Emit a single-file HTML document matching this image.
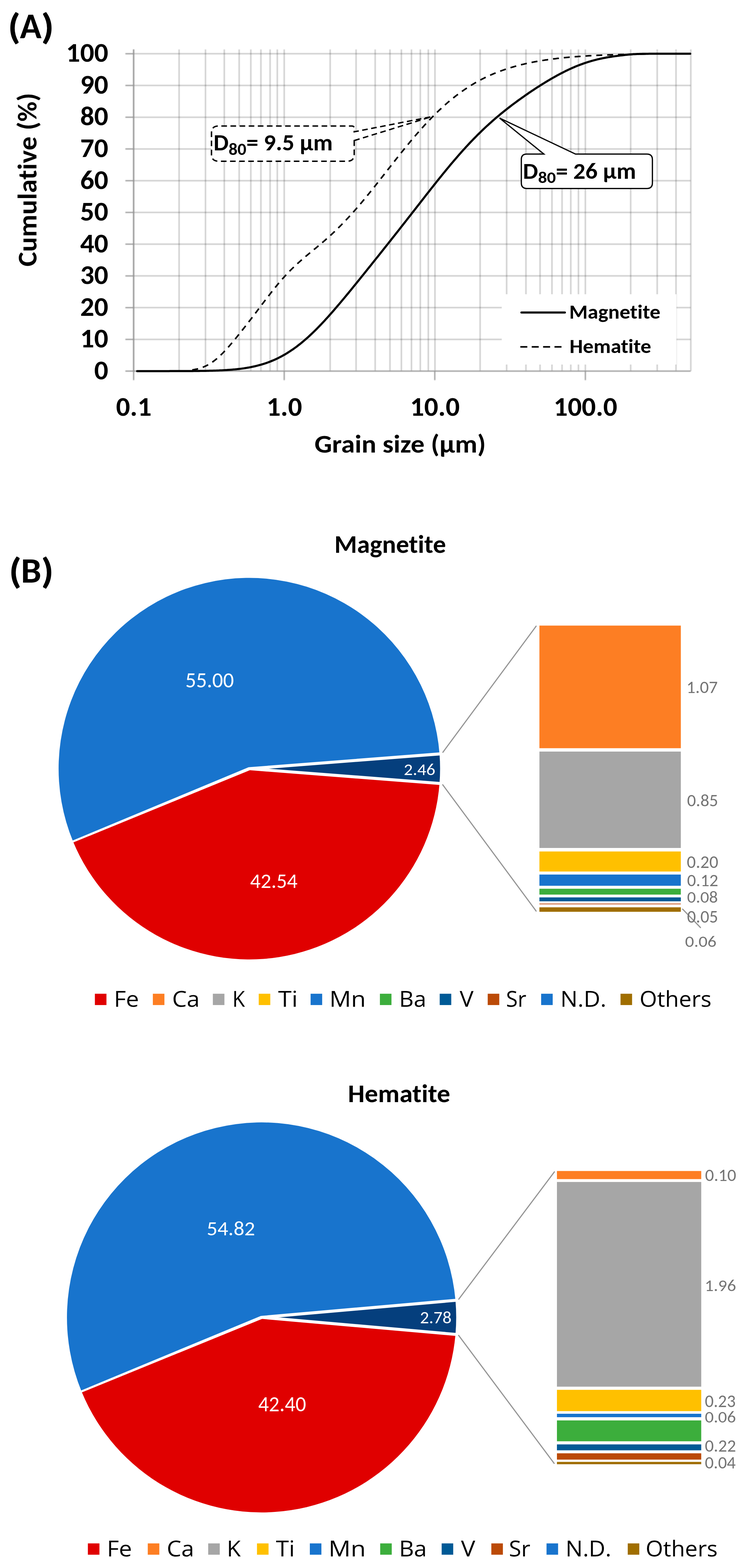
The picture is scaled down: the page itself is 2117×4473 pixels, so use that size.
<!DOCTYPE html><html><head><meta charset="utf-8"><title>Figure</title><style>html,body{margin:0;padding:0;background:#fff}svg{display:block}text{white-space:pre;font-variant-ligatures:none;font-feature-settings:"liga" 0,"clig" 0}</style></head><body>
<svg width="2117" height="4473" viewBox="0 0 2117 4473">
<rect width="2117" height="4473" fill="#fff"/>
<defs><filter id="bl" x="-1%" y="-1%" width="102%" height="102%"><feGaussianBlur stdDeviation="0.8"/></filter><filter id="bl2" x="-5%" y="-5%" width="110%" height="110%"><feGaussianBlur stdDeviation="0.6"/></filter></defs>
<g stroke="#000" stroke-opacity="0.22" stroke-width="3.5" fill="none" filter="url(#bl)">
<line x1="381.3" y1="141" x2="381.3" y2="1058.7"/>
<line x1="511.0" y1="141" x2="511.0" y2="1058.7"/>
<line x1="586.3" y1="141" x2="586.3" y2="1058.7"/>
<line x1="639.9" y1="141" x2="639.9" y2="1058.7"/>
<line x1="682.4" y1="141" x2="682.4" y2="1058.7"/>
<line x1="715.6" y1="141" x2="715.6" y2="1058.7"/>
<line x1="744.4" y1="141" x2="744.4" y2="1058.7"/>
<line x1="770.6" y1="141" x2="770.6" y2="1058.7"/>
<line x1="791.2" y1="141" x2="791.2" y2="1058.7"/>
<line x1="810.9" y1="141" x2="810.9" y2="1058.7"/>
<line x1="942.0" y1="141" x2="942.0" y2="1058.7"/>
<line x1="1015.9" y1="141" x2="1015.9" y2="1058.7"/>
<line x1="1070.4" y1="141" x2="1070.4" y2="1058.7"/>
<line x1="1112.6" y1="141" x2="1112.6" y2="1058.7"/>
<line x1="1145.2" y1="141" x2="1145.2" y2="1058.7"/>
<line x1="1174.0" y1="141" x2="1174.0" y2="1058.7"/>
<line x1="1199.2" y1="141" x2="1199.2" y2="1058.7"/>
<line x1="1222.0" y1="141" x2="1222.0" y2="1058.7"/>
<line x1="1241.0" y1="141" x2="1241.0" y2="1058.7"/>
<line x1="1369.8" y1="141" x2="1369.8" y2="1058.7"/>
<line x1="1445.5" y1="141" x2="1445.5" y2="1058.7"/>
<line x1="1500.6" y1="141" x2="1500.6" y2="1058.7"/>
<line x1="1540.8" y1="141" x2="1540.8" y2="1058.7"/>
<line x1="1574.8" y1="141" x2="1574.8" y2="1058.7"/>
<line x1="1603.6" y1="141" x2="1603.6" y2="1058.7"/>
<line x1="1628.5" y1="141" x2="1628.5" y2="1058.7"/>
<line x1="1650.4" y1="141" x2="1650.4" y2="1058.7"/>
<line x1="1670.1" y1="141" x2="1670.1" y2="1058.7"/>
<line x1="1799.4" y1="141" x2="1799.4" y2="1058.7"/>
<line x1="1875.1" y1="141" x2="1875.1" y2="1058.7"/>
<line x1="1928.7" y1="141" x2="1928.7" y2="1058.7"/>
<line x1="1970.9" y1="141" x2="1970.9" y2="1058.7"/>
<line x1="381.3" y1="968.2" x2="1970.4" y2="968.2"/>
<line x1="381.3" y1="877.6" x2="1970.4" y2="877.6"/>
<line x1="381.3" y1="787.1" x2="1970.4" y2="787.1"/>
<line x1="381.3" y1="696.5" x2="1970.4" y2="696.5"/>
<line x1="381.3" y1="606.0" x2="1970.4" y2="606.0"/>
<line x1="381.3" y1="515.5" x2="1970.4" y2="515.5"/>
<line x1="381.3" y1="424.9" x2="1970.4" y2="424.9"/>
<line x1="381.3" y1="334.4" x2="1970.4" y2="334.4"/>
<line x1="381.3" y1="243.8" x2="1970.4" y2="243.8"/>
<line x1="381.3" y1="153.3" x2="1970.4" y2="153.3"/>
</g>
<g stroke="#959595" stroke-width="3.2" fill="none" filter="url(#bl)">
<line x1="381.3" y1="141" x2="381.3" y2="1084.5"/>
<line x1="357.7" y1="1058.7" x2="1970.4" y2="1058.7"/>
<line x1="357.7" y1="968.2" x2="381.3" y2="968.2"/>
<line x1="357.7" y1="877.6" x2="381.3" y2="877.6"/>
<line x1="357.7" y1="787.1" x2="381.3" y2="787.1"/>
<line x1="357.7" y1="696.5" x2="381.3" y2="696.5"/>
<line x1="357.7" y1="606.0" x2="381.3" y2="606.0"/>
<line x1="357.7" y1="515.5" x2="381.3" y2="515.5"/>
<line x1="357.7" y1="424.9" x2="381.3" y2="424.9"/>
<line x1="357.7" y1="334.4" x2="381.3" y2="334.4"/>
<line x1="357.7" y1="243.8" x2="381.3" y2="243.8"/>
<line x1="357.7" y1="153.3" x2="381.3" y2="153.3"/>
<line x1="810.9" y1="1058.7" x2="810.9" y2="1084.5"/>
<line x1="1240.5" y1="1058.7" x2="1240.5" y2="1084.5"/>
<line x1="1670.1" y1="1058.7" x2="1670.1" y2="1084.5"/>
</g>
<g style="font-family:Carlito,'Liberation Sans',sans-serif;font-weight:bold" font-size="80" fill="#000">
<text transform="translate(309,1081.7) scale(0.99,0.95)" text-anchor="end">0</text>
<text transform="translate(309,991.2) scale(0.99,0.95)" text-anchor="end">10</text>
<text transform="translate(309,900.6) scale(0.99,0.95)" text-anchor="end">20</text>
<text transform="translate(309,810.1) scale(0.99,0.95)" text-anchor="end">30</text>
<text transform="translate(309,719.5) scale(0.99,0.95)" text-anchor="end">40</text>
<text transform="translate(309,629.0) scale(0.99,0.95)" text-anchor="end">50</text>
<text transform="translate(309,538.5) scale(0.99,0.95)" text-anchor="end">60</text>
<text transform="translate(309,447.9) scale(0.99,0.95)" text-anchor="end">70</text>
<text transform="translate(309,357.4) scale(0.99,0.95)" text-anchor="end">80</text>
<text transform="translate(309,266.8) scale(0.99,0.95)" text-anchor="end">90</text>
<text transform="translate(309,176.3) scale(0.99,0.95)" text-anchor="end">100</text>
<text transform="translate(381.6,1185.7) scale(0.99,0.95)" text-anchor="middle">0.1</text>
<text transform="translate(811.2,1185.7) scale(0.99,0.95)" text-anchor="middle">1.0</text>
<text transform="translate(1240.8,1185.7) scale(0.99,0.95)" text-anchor="middle">10.0</text>
<text transform="translate(1670.4,1185.7) scale(0.99,0.95)" text-anchor="middle">100.0</text>
</g>
<text transform="translate(897.24,1291.27) scale(0.9819,0.9178)" style="font-family:Carlito,'Liberation Sans',sans-serif;font-weight:bold" font-size="80" fill="#000" textLength="498.05" lengthAdjust="spacingAndGlyphs">Grain size (µm)</text>
<text transform="rotate(-90) translate(-760.27,103.75) scale(0.9851,0.9625)" style="font-family:Carlito,'Liberation Sans',sans-serif;font-weight:bold" font-size="80" fill="#000" textLength="502.70" lengthAdjust="spacingAndGlyphs">Cumulative (%)</text>
<text transform="translate(22.31,111.48) scale(1.1476,1.0078)" style="font-family:Carlito,'Liberation Sans',sans-serif;font-weight:bold" font-size="102" fill="#000" textLength="31.78" lengthAdjust="spacingAndGlyphs">(</text>
<text transform="translate(56.80,109.40) scale(1.0000,1.0182)" style="font-family:Carlito,'Liberation Sans',sans-serif;font-weight:bold" font-size="102" fill="#000" textLength="61.81" lengthAdjust="spacingAndGlyphs">A</text>
<text transform="translate(116.92,111.48) scale(1.1762,1.0078)" style="font-family:Carlito,'Liberation Sans',sans-serif;font-weight:bold" font-size="102" fill="#000" textLength="31.78" lengthAdjust="spacingAndGlyphs">)</text>
<path d="M548.5,1055.1 L551.6,1054.7 L554.7,1054.1 L557.8,1053.5 L560.9,1052.9 L564.0,1052.2 L567.1,1051.4 L570.2,1050.5 L573.3,1049.5 L576.4,1048.4 L579.5,1047.3 L582.6,1046.0 L585.7,1044.6 L588.8,1043.2 L591.9,1041.6 L595.0,1039.9 L598.1,1038.1 L601.2,1036.1 L604.3,1034.1 L607.4,1031.9 L610.5,1029.6 L613.6,1027.2 L616.7,1024.7 L619.8,1022.1 L622.9,1019.4 L626.0,1016.5 L629.1,1013.6 L632.2,1010.6 L635.4,1007.5 L638.5,1004.3 L641.6,1001.0 L644.7,997.6 L647.8,994.2 L650.9,990.7 L654.0,987.2 L657.1,983.6 L660.2,980.0 L663.3,976.3 L666.4,972.6 L669.5,968.8 L672.6,965.1 L675.7,961.3 L678.8,957.4 L681.9,953.6 L685.0,949.7 L688.1,945.9 L691.2,942.0 L694.3,938.0 L697.4,934.1 L700.5,930.2 L703.6,926.2 L706.7,922.2 L709.8,918.2 L712.9,914.2 L716.0,910.2 L719.1,906.1 L722.2,902.1 L725.3,898.0 L728.4,893.9 L731.5,889.8 L734.6,885.7 L737.7,881.6 L740.8,877.5 L743.9,873.4 L747.0,869.3 L750.1,865.2 L753.2,861.1 L756.3,857.0 L759.4,852.9 L762.5,848.8 L765.7,844.8 L768.8,840.8 L771.9,836.8 L775.0,832.8 L778.1,828.9 L781.2,825.0 L784.3,821.1 L787.4,817.3 L790.5,813.5 L793.6,809.8 L796.7,806.1 L799.8,802.4 L802.9,798.9 L806.0,795.3 L809.1,791.9 L812.2,788.4 L815.3,785.1 L818.4,781.7 L821.5,778.5 L824.6,775.3 L827.7,772.1 L830.8,769.0 L833.9,766.0 L837.0,763.0 L840.1,760.0 L843.2,757.1 L846.3,754.2 L849.4,751.4 L852.5,748.6 L855.6,745.8 L858.7,743.1 L861.8,740.4 L864.9,737.7 L868.0,735.1 L871.1,732.4 L874.2,729.8 L877.3,727.2 L880.4,724.6 L883.5,722.1 L886.6,719.5 L889.7,716.9 L892.8,714.4 L895.9,711.8 L899.1,709.3 L902.2,706.7 L905.3,704.1 L908.4,701.5 L911.5,698.9 L914.6,696.3 L917.7,693.7 L920.8,691.0 L923.9,688.4 L927.0,685.7 L930.1,682.9 L933.2,680.2 L936.3,677.4 L939.4,674.7 L942.5,671.8 L945.6,669.0 L948.7,666.1 L951.8,663.2 L954.9,660.3 L958.0,657.3 L961.1,654.3 L964.2,651.3 L967.3,648.2 L970.4,645.1 L973.5,642.0 L976.6,638.8 L979.7,635.6 L982.8,632.4 L985.9,629.1 L989.0,625.8 L992.1,622.5 L995.2,619.2 L998.3,615.8 L1001.4,612.4 L1004.5,608.9 L1007.6,605.5 L1010.7,602.0 L1013.8,598.4 L1016.9,594.9 L1020.0,591.3 L1023.1,587.7 L1026.2,584.1 L1029.4,580.4 L1032.5,576.7 L1035.6,573.0 L1038.7,569.3 L1041.8,565.5 L1044.9,561.8 L1048.0,558.0 L1051.1,554.2 L1054.2,550.4 L1057.3,546.5 L1060.4,542.7 L1063.5,538.8 L1066.6,534.9 L1069.7,531.0 L1072.8,527.1 L1075.9,523.2 L1079.0,519.3 L1082.1,515.3 L1085.2,511.4 L1088.3,507.4 L1091.4,503.5 L1094.5,499.5 L1097.6,495.6 L1100.7,491.6 L1103.8,487.6 L1106.9,483.7 L1110.0,479.7 L1113.1,475.8 L1116.2,471.8 L1119.3,467.9 L1122.4,463.9 L1125.5,460.0 L1128.6,456.0 L1131.7,452.1 L1134.8,448.2 L1137.9,444.3 L1141.0,440.4 L1144.1,436.5 L1147.2,432.7 L1150.3,428.8 L1153.4,425.0 L1156.5,421.1 L1159.6,417.3 L1162.8,413.6 L1165.9,409.8 L1169.0,406.0 L1172.1,402.3 L1175.2,398.6 L1178.3,394.9 L1181.4,391.3 L1184.5,387.6 L1187.6,384.0 L1190.7,380.4 L1193.8,376.9 L1196.9,373.3 L1200.0,369.8 L1203.1,366.3 L1206.2,362.9 L1209.3,359.5 L1212.4,356.1 L1215.5,352.7 L1218.6,349.4 L1221.7,346.1 L1224.8,342.8 L1227.9,339.6 L1231.0,336.4 L1234.1,333.2 L1237.2,330.1 L1240.3,327.0 L1243.4,323.9 L1246.5,320.9 L1249.6,317.9 L1252.7,314.9 L1255.8,312.0 L1258.9,309.1 L1262.0,306.2 L1265.1,303.4 L1268.2,300.6 L1271.3,297.8 L1274.4,295.1 L1277.5,292.4 L1280.6,289.8 L1283.7,287.2 L1286.8,284.6 L1289.9,282.0 L1293.1,279.5 L1296.2,277.1 L1299.3,274.6 L1302.4,272.2 L1305.5,269.9 L1308.6,267.6 L1311.7,265.3 L1314.8,263.0 L1317.9,260.8 L1321.0,258.6 L1324.1,256.5 L1327.2,254.3 L1330.3,252.3 L1333.4,250.2 L1336.5,248.2 L1339.6,246.2 L1342.7,244.3 L1345.8,242.4 L1348.9,240.5 L1352.0,238.6 L1355.1,236.8 L1358.2,235.0 L1361.3,233.3 L1364.4,231.6 L1367.5,229.9 L1370.6,228.2 L1373.7,226.6 L1376.8,225.0 L1379.9,223.4 L1383.0,221.9 L1386.1,220.4 L1389.2,218.9 L1392.3,217.5 L1395.4,216.0 L1398.5,214.6 L1401.6,213.3 L1404.7,211.9 L1407.8,210.6 L1410.9,209.3 L1414.0,208.1 L1417.1,206.8 L1420.2,205.6 L1423.3,204.4 L1426.5,203.2 L1429.6,202.1 L1432.7,201.0 L1435.8,199.9 L1438.9,198.8 L1442.0,197.7 L1445.1,196.7 L1448.2,195.7 L1451.3,194.7 L1454.4,193.7 L1457.5,192.8 L1460.6,191.9 L1463.7,191.0 L1466.8,190.1 L1469.9,189.2 L1473.0,188.3 L1476.1,187.5 L1479.2,186.7 L1482.3,185.9 L1485.4,185.1 L1488.5,184.3 L1491.6,183.6 L1494.7,182.9 L1497.8,182.1 L1500.9,181.4 L1504.0,180.8 L1507.1,180.1 L1510.2,179.4 L1513.3,178.8 L1516.4,178.2 L1519.5,177.5 L1522.6,176.9 L1525.7,176.3 L1528.8,175.8 L1531.9,175.2 L1535.0,174.7 L1538.1,174.1 L1541.2,173.6 L1544.3,173.1 L1547.4,172.6 L1550.5,172.1 L1553.6,171.6 L1556.8,171.1 L1559.9,170.7 L1563.0,170.2 L1566.1,169.8 L1569.2,169.4 L1572.3,168.9 L1575.4,168.5 L1578.5,168.1 L1581.6,167.7 L1584.7,167.4 L1587.8,167.0 L1590.9,166.6 L1594.0,166.3 L1597.1,165.9 L1600.2,165.6 L1603.3,165.3 L1606.4,164.9 L1609.5,164.6 L1612.6,164.3 L1615.7,164.0 L1618.8,163.7 L1621.9,163.4 L1625.0,163.1 L1628.1,162.9 L1631.2,162.6 L1634.3,162.3 L1637.4,162.1 L1640.5,161.8 L1643.6,161.6 L1646.7,161.4 L1649.8,161.1 L1652.9,160.9 L1656.0,160.7 L1659.1,160.5 L1662.2,160.3 L1665.3,160.1 L1668.4,159.9 L1671.5,159.7 L1674.6,159.5 L1677.7,159.3 L1680.8,159.1 L1683.9,158.9 L1687.1,158.8 L1690.2,158.6 L1693.3,158.4 L1696.4,158.3 L1699.5,158.1 L1702.6,158.0 L1705.7,157.8 L1708.8,157.7 L1711.9,157.6 L1715.0,157.4 L1718.1,157.3 L1721.2,157.2 L1724.3,157.1 L1727.4,156.9 L1730.5,156.8 L1733.6,156.7 L1736.7,156.6 L1739.8,156.5 L1742.9,156.4 L1746.0,156.3 L1749.1,156.2 L1752.2,156.1 L1755.3,156.0 L1758.4,155.9 L1761.5,155.8 L1764.6,155.7 L1767.7,155.7 L1770.8,155.6 L1773.9,155.5 L1777.0,155.4 L1780.1,155.3 L1783.2,155.3 L1786.3,155.2 L1789.4,155.1 L1792.5,155.1 L1795.6,155.0 L1798.7,155.0 L1801.8,154.9 L1804.9,154.8 L1808.0,154.8 L1811.1,154.7 L1814.2,154.7 L1817.3,154.6 L1820.5,154.6 L1823.6,154.5 L1826.7,154.5 L1829.8,154.4 L1832.9,154.4 L1836.0,154.4 L1839.1,154.3 L1842.2,154.3 L1845.3,154.2 L1848.4,154.2" fill="none" stroke="#000" stroke-width="4.5" stroke-dasharray="17 14"/>
<path d="M391.3,1058.7 L395.1,1058.7 L398.8,1058.7 L402.6,1058.7 L406.4,1058.7 L410.1,1058.7 L413.9,1058.7 L417.7,1058.7 L421.4,1058.7 L425.2,1058.7 L428.9,1058.7 L432.7,1058.7 L436.5,1058.7 L440.2,1058.7 L444.0,1058.7 L447.8,1058.7 L451.5,1058.7 L455.3,1058.7 L459.1,1058.7 L462.8,1058.7 L466.6,1058.7 L470.4,1058.7 L474.1,1058.7 L477.9,1058.7 L481.7,1058.7 L485.4,1058.6 L489.2,1058.6 L493.0,1058.6 L496.7,1058.6 L500.5,1058.6 L504.3,1058.6 L508.0,1058.6 L511.8,1058.6 L515.6,1058.6 L519.3,1058.6 L523.1,1058.5 L526.9,1058.5 L530.6,1058.5 L534.4,1058.5 L538.2,1058.5 L541.9,1058.4 L545.7,1058.4 L549.5,1058.4 L553.2,1058.3 L557.0,1058.3 L560.8,1058.3 L564.5,1058.2 L568.3,1058.2 L572.1,1058.1 L575.8,1058.1 L579.6,1058.0 L583.4,1058.0 L587.1,1057.9 L590.9,1057.8 L594.7,1057.7 L598.4,1057.6 L602.2,1057.5 L606.0,1057.4 L609.7,1057.3 L613.5,1057.2 L617.3,1057.1 L621.0,1056.9 L624.8,1056.8 L628.5,1056.6 L632.3,1056.4 L636.1,1056.2 L639.8,1056.0 L643.6,1055.8 L647.4,1055.6 L651.1,1055.3 L654.9,1055.0 L658.7,1054.7 L662.4,1054.4 L666.2,1054.1 L670.0,1053.8 L673.7,1053.4 L677.5,1053.0 L681.3,1052.6 L685.0,1052.1 L688.8,1051.6 L692.6,1051.1 L696.3,1050.6 L700.1,1050.0 L703.9,1049.4 L707.6,1048.7 L711.4,1048.1 L715.2,1047.4 L718.9,1046.6 L722.7,1045.8 L726.5,1045.0 L730.2,1044.1 L734.0,1043.2 L737.8,1042.2 L741.5,1041.2 L745.3,1040.1 L749.1,1039.0 L752.8,1037.8 L756.6,1036.6 L760.4,1035.3 L764.1,1034.0 L767.9,1032.6 L771.7,1031.1 L775.4,1029.6 L779.2,1028.1 L783.0,1026.4 L786.7,1024.7 L790.5,1023.0 L794.3,1021.1 L798.0,1019.2 L801.8,1017.3 L805.6,1015.2 L809.3,1013.1 L813.1,1011.0 L816.9,1008.7 L820.6,1006.4 L824.4,1004.0 L828.1,1001.6 L831.9,999.1 L835.7,996.5 L839.4,993.8 L843.2,991.1 L847.0,988.3 L850.7,985.4 L854.5,982.5 L858.3,979.5 L862.0,976.4 L865.8,973.2 L869.6,970.0 L873.3,966.8 L877.1,963.4 L880.9,960.0 L884.6,956.5 L888.4,953.0 L892.2,949.4 L895.9,945.8 L899.7,942.1 L903.5,938.3 L907.2,934.5 L911.0,930.6 L914.8,926.7 L918.5,922.7 L922.3,918.7 L926.1,914.7 L929.8,910.6 L933.6,906.4 L937.4,902.3 L941.1,898.0 L944.9,893.8 L948.7,889.5 L952.4,885.2 L956.2,880.8 L960.0,876.4 L963.7,872.0 L967.5,867.6 L971.3,863.1 L975.0,858.6 L978.8,854.1 L982.6,849.6 L986.3,845.1 L990.1,840.5 L993.9,836.0 L997.6,831.4 L1001.4,826.8 L1005.2,822.2 L1008.9,817.5 L1012.7,812.9 L1016.4,808.3 L1020.2,803.6 L1024.0,799.0 L1027.7,794.3 L1031.5,789.6 L1035.3,785.0 L1039.0,780.3 L1042.8,775.6 L1046.6,770.9 L1050.3,766.2 L1054.1,761.5 L1057.9,756.8 L1061.6,752.1 L1065.4,747.4 L1069.2,742.7 L1072.9,738.0 L1076.7,733.3 L1080.5,728.6 L1084.2,723.9 L1088.0,719.1 L1091.8,714.4 L1095.5,709.7 L1099.3,704.9 L1103.1,700.2 L1106.8,695.5 L1110.6,690.7 L1114.4,686.0 L1118.1,681.2 L1121.9,676.4 L1125.7,671.7 L1129.4,666.9 L1133.2,662.1 L1137.0,657.3 L1140.7,652.5 L1144.5,647.7 L1148.3,642.9 L1152.0,638.1 L1155.8,633.3 L1159.6,628.5 L1163.3,623.7 L1167.1,618.9 L1170.9,614.1 L1174.6,609.2 L1178.4,604.4 L1182.2,599.6 L1185.9,594.8 L1189.7,589.9 L1193.5,585.1 L1197.2,580.3 L1201.0,575.4 L1204.8,570.6 L1208.5,565.8 L1212.3,561.0 L1216.0,556.2 L1219.8,551.4 L1223.6,546.6 L1227.3,541.8 L1231.1,537.0 L1234.9,532.3 L1238.6,527.5 L1242.4,522.8 L1246.2,518.0 L1249.9,513.3 L1253.7,508.6 L1257.5,504.0 L1261.2,499.3 L1265.0,494.7 L1268.8,490.1 L1272.5,485.5 L1276.3,480.9 L1280.1,476.4 L1283.8,471.8 L1287.6,467.3 L1291.4,462.9 L1295.1,458.5 L1298.9,454.1 L1302.7,449.7 L1306.4,445.4 L1310.2,441.0 L1314.0,436.8 L1317.7,432.5 L1321.5,428.3 L1325.3,424.2 L1329.0,420.1 L1332.8,416.0 L1336.6,411.9 L1340.3,407.9 L1344.1,403.9 L1347.9,400.0 L1351.6,396.1 L1355.4,392.3 L1359.2,388.5 L1362.9,384.7 L1366.7,381.0 L1370.5,377.3 L1374.2,373.6 L1378.0,370.0 L1381.8,366.4 L1385.5,362.9 L1389.3,359.4 L1393.1,356.0 L1396.8,352.5 L1400.6,349.2 L1404.4,345.8 L1408.1,342.5 L1411.9,339.3 L1415.6,336.0 L1419.4,332.8 L1423.2,329.7 L1426.9,326.5 L1430.7,323.4 L1434.5,320.4 L1438.2,317.3 L1442.0,314.3 L1445.8,311.4 L1449.5,308.4 L1453.3,305.5 L1457.1,302.6 L1460.8,299.7 L1464.6,296.9 L1468.4,294.1 L1472.1,291.3 L1475.9,288.5 L1479.7,285.8 L1483.4,283.1 L1487.2,280.4 L1491.0,277.7 L1494.7,275.1 L1498.5,272.4 L1502.3,269.8 L1506.0,267.2 L1509.8,264.6 L1513.6,262.1 L1517.3,259.6 L1521.1,257.1 L1524.9,254.6 L1528.6,252.1 L1532.4,249.6 L1536.2,247.2 L1539.9,244.8 L1543.7,242.4 L1547.5,240.1 L1551.2,237.7 L1555.0,235.4 L1558.8,233.1 L1562.5,230.8 L1566.3,228.6 L1570.1,226.4 L1573.8,224.2 L1577.6,222.0 L1581.4,219.9 L1585.1,217.8 L1588.9,215.7 L1592.7,213.6 L1596.4,211.6 L1600.2,209.6 L1604.0,207.7 L1607.7,205.8 L1611.5,203.9 L1615.2,202.0 L1619.0,200.2 L1622.8,198.4 L1626.5,196.7 L1630.3,195.0 L1634.1,193.3 L1637.8,191.7 L1641.6,190.1 L1645.4,188.5 L1649.1,187.0 L1652.9,185.6 L1656.7,184.1 L1660.4,182.8 L1664.2,181.4 L1668.0,180.1 L1671.7,178.8 L1675.5,177.6 L1679.3,176.4 L1683.0,175.3 L1686.8,174.2 L1690.6,173.1 L1694.3,172.1 L1698.1,171.1 L1701.9,170.1 L1705.6,169.2 L1709.4,168.3 L1713.2,167.5 L1716.9,166.7 L1720.7,165.9 L1724.5,165.2 L1728.2,164.5 L1732.0,163.8 L1735.8,163.1 L1739.5,162.5 L1743.3,162.0 L1747.1,161.4 L1750.8,160.9 L1754.6,160.4 L1758.4,159.9 L1762.1,159.4 L1765.9,158.9 L1769.7,158.4 L1773.4,157.9 L1777.2,157.5 L1781.0,157.0 L1784.7,156.6 L1788.5,156.2 L1792.3,155.8 L1796.0,155.5 L1799.8,155.2 L1803.5,154.9 L1807.3,154.6 L1811.1,154.4 L1814.8,154.2 L1818.6,154.0 L1822.4,153.9 L1826.1,153.8 L1829.9,153.7 L1833.7,153.6 L1837.4,153.5 L1841.2,153.4 L1845.0,153.4 L1848.7,153.4 L1852.5,153.3 L1856.3,153.3 L1860.0,153.3 L1863.8,153.3 L1867.6,153.3 L1871.3,153.3 L1875.1,153.3 L1878.9,153.3 L1882.6,153.3 L1886.4,153.3 L1890.2,153.3 L1893.9,153.3 L1897.7,153.3 L1901.5,153.3 L1905.2,153.3 L1909.0,153.3 L1912.8,153.3 L1916.5,153.3 L1920.3,153.3 L1924.1,153.3 L1927.8,153.3 L1931.6,153.3 L1935.4,153.3 L1939.1,153.3 L1942.9,153.3 L1946.7,153.3 L1950.4,153.3 L1954.2,153.3 L1958.0,153.3 L1961.7,153.3 L1965.5,153.3 L1969.3,153.3" fill="none" stroke="#000" stroke-width="6" stroke-linecap="round" stroke-linejoin="round"/>
<g fill="none" stroke="#000" stroke-width="4" stroke-dasharray="16 10">
<path d="M1010.6,401 L1231,333 L1010.6,376 L1010.6,366 Q1010.6,359.5 1004,359.5 L623.4,359.5 Q603.4,359.5 603.4,379.5 L603.4,439.9 Q603.4,459.9 623.4,459.9 L990.6,459.9 Q1010.6,459.9 1010.6,439.9 Z" fill="#fff" stroke-dashoffset="0"/>
</g>
<text transform="translate(609.22,429.35) scale(1.0190,1.0036)" style="font-family:Carlito,'Liberation Sans',sans-serif;font-weight:bold" font-size="67" fill="#000">D<tspan font-size="49" dy="12.5">80</tspan><tspan dy="-12.5">= 9.5 µm</tspan></text>
<path d="M1487.4,454.6 Q1487.4,439.6 1503.4,439.6 L1551.8,439.6 L1425.4,336.9 L1642,439.6 L1845.4,439.6 Q1861.4,439.6 1861.4,455.6 L1861.4,521.7 Q1861.4,537.7 1845.4,537.7 L1503.4,537.7 Q1487.4,537.7 1487.4,521.7 Z" fill="#fff" stroke="#000" stroke-width="3.5" stroke-linejoin="miter"/>
<text transform="translate(1492.11,509.54) scale(1.0214,0.9661)" style="font-family:Carlito,'Liberation Sans',sans-serif;font-weight:bold" font-size="67" fill="#000">D<tspan font-size="49" dy="12.5">80</tspan><tspan dy="-12.5">= 26 µm</tspan></text>
<rect x="1431.5" y="839.4" width="498.5" height="200.5" fill="#fff"/>
<line x1="1487.7" y1="891.4" x2="1611.6" y2="891.4" stroke="#000" stroke-width="6" stroke-linecap="round"/>
<line x1="1484.5" y1="989.4" x2="1604" y2="989.4" stroke="#000" stroke-width="4.5" stroke-dasharray="20 12.5"/>
<text transform="translate(1623.97,909.48) scale(1.0079,0.9321)" style="font-family:Carlito,'Liberation Sans',sans-serif;font-weight:bold" font-size="60" fill="#000" textLength="258.31" lengthAdjust="spacingAndGlyphs">Magnetite</text>
<text transform="translate(1624.98,1007.00) scale(1.0053,0.9442)" style="font-family:Carlito,'Liberation Sans',sans-serif;font-weight:bold" font-size="60" fill="#000" textLength="231.75" lengthAdjust="spacingAndGlyphs">Hematite</text>
<text transform="translate(25.21,1664.07) scale(1.1476,1.0022)" style="font-family:Carlito,'Liberation Sans',sans-serif;font-weight:bold" font-size="102" fill="#000" textLength="31.78" lengthAdjust="spacingAndGlyphs">(</text>
<text transform="translate(59.79,1661.80) scale(1.0187,0.9909)" style="font-family:Carlito,'Liberation Sans',sans-serif;font-weight:bold" font-size="102" fill="#000" textLength="57.19" lengthAdjust="spacingAndGlyphs">B</text>
<text transform="translate(117.06,1664.07) scale(1.1476,1.0022)" style="font-family:Carlito,'Liberation Sans',sans-serif;font-weight:bold" font-size="102" fill="#000" textLength="31.78" lengthAdjust="spacingAndGlyphs">)</text>
<text transform="translate(953.99,1577.01) scale(1.0421,1.0161)" style="font-family:Carlito,'Liberation Sans',sans-serif;font-weight:bold" font-size="71" fill="#000" textLength="305.67" lengthAdjust="spacingAndGlyphs">Magnetite</text>
<g><path d="M711.4,2192.8 L1254.0,2150.8 A544.2,544.2 0 0 1 1254.0,2234.8 Z" fill="#053f7d"/><path d="M711.4,2192.8 L1254.0,2234.8 A544.2,544.2 0 0 1 208.4,2400.4 Z" fill="#e00000"/><path d="M711.4,2192.8 L208.4,2400.4 A544.2,544.2 0 1 1 1254.0,2150.8 Z" fill="#1874cd"/><path d="M1264.8,2149.9 L711.4,2192.8 L1264.8,2235.7" fill="none" stroke="#fff" stroke-width="8.6" stroke-linejoin="round"/><path d="M709.6,2188.5 L192.2,2404.0 L194.4,2409.3 L713.2,2197.1 Z" fill="#fff"/></g>
<rect x="1539" y="1784.6" width="403.5" height="349.8" fill="#fd7e23"/>
<rect x="1539" y="2144.0" width="403.5" height="275.0" fill="#a6a6a6"/>
<rect x="1539" y="2429.0" width="403.5" height="57.2" fill="#ffc000"/>
<rect x="1539" y="2494.8" width="403.5" height="32.0" fill="#1874cd"/>
<rect x="1539" y="2535.3" width="403.5" height="16.7" fill="#3cae3c"/>
<rect x="1539" y="2560.0" width="403.5" height="11.2" fill="#005a96"/>
<rect x="1539" y="2576.3" width="403.5" height="4.5" fill="#e0a080"/>
<rect x="1539" y="2588.3" width="403.5" height="12.7" fill="#a06e00"/>
<g stroke="#959595" stroke-width="3.3" fill="none" stroke-linecap="round" filter="url(#bl2)"><line x1="1263.6" y1="2146" x2="1529.6" y2="1786.3"/><line x1="1263.2" y1="2238.7" x2="1529.6" y2="2598.9"/><line x1="1947.5" y1="2593.4" x2="1998.5" y2="2646"/></g>
<text transform="translate(1958.46,1976.50) scale(1.0085,0.9937)" style="font-family:Carlito,'Liberation Sans',sans-serif" font-size="50" fill="#747474" textLength="88.66" lengthAdjust="spacingAndGlyphs">1.07</text>
<text transform="translate(1960.20,2300.00) scale(1.0000,0.9647)" style="font-family:Carlito,'Liberation Sans',sans-serif" font-size="50" fill="#747474" textLength="88.66" lengthAdjust="spacingAndGlyphs">0.85</text>
<text transform="translate(1959.59,2475.90) scale(1.0116,1.0281)" style="font-family:Carlito,'Liberation Sans',sans-serif" font-size="50" fill="#747474" textLength="88.66" lengthAdjust="spacingAndGlyphs">0.20</text>
<text transform="translate(1960.30,2528.40) scale(1.0035,0.9844)" style="font-family:Carlito,'Liberation Sans',sans-serif" font-size="50" fill="#747474" textLength="88.66" lengthAdjust="spacingAndGlyphs">0.12</text>
<text transform="translate(1960.31,2574.80) scale(0.9919,0.9559)" style="font-family:Carlito,'Liberation Sans',sans-serif" font-size="50" fill="#747474" textLength="88.66" lengthAdjust="spacingAndGlyphs">0.08</text>
<text transform="translate(1960.30,2632.40) scale(0.9965,1.0187)" style="font-family:Carlito,'Liberation Sans',sans-serif" font-size="50" fill="#747474" textLength="88.66" lengthAdjust="spacingAndGlyphs">0.05</text>
<text transform="translate(1954.49,2701.10) scale(1.0116,0.8941)" style="font-family:Carlito,'Liberation Sans',sans-serif" font-size="50" fill="#747474" textLength="88.66" lengthAdjust="spacingAndGlyphs">0.06</text>
<text transform="translate(528.66,1961.20) scale(1.0129,1.0105)" style="font-family:Carlito,'Liberation Sans',sans-serif" font-size="60" fill="#fff" textLength="136.80" lengthAdjust="spacingAndGlyphs">55.00</text>
<text transform="translate(713.51,2532.70) scale(0.9904,1.0026)" style="font-family:Carlito,'Liberation Sans',sans-serif" font-size="60" fill="#fff" textLength="136.80" lengthAdjust="spacingAndGlyphs">42.54</text>
<text transform="translate(1152.07,2210.70) scale(1.0141,0.9382)" style="font-family:Carlito,'Liberation Sans',sans-serif" font-size="50" fill="#fff" textLength="88.66" lengthAdjust="spacingAndGlyphs">2.46</text>
<rect x="270.7" y="2834.8" width="33" height="32.3" fill="#e00000"/><rect x="436.1" y="2834.8" width="33" height="32.3" fill="#fd7e23"/><rect x="607.3" y="2834.8" width="33" height="32.3" fill="#a6a6a6"/><rect x="738.2" y="2834.8" width="33" height="32.3" fill="#ffc000"/><rect x="886.2" y="2834.8" width="33" height="32.3" fill="#1874cd"/><rect x="1083.9" y="2834.8" width="33" height="32.3" fill="#3cae3c"/><rect x="1254.5" y="2834.8" width="33" height="32.3" fill="#005a96"/><rect x="1391.5" y="2834.8" width="33" height="32.3" fill="#bb4a07"/><rect x="1543.9" y="2834.8" width="33" height="32.3" fill="#1874cd"/><rect x="1770.4" y="2834.8" width="33" height="32.3" fill="#a06e00"/>
<text transform="translate(325.07,2872.40) scale(1.0383,0.9696)" style="font-family:'Open Sans',Carlito,'Liberation Sans',sans-serif" font-size="64" fill="#000" textLength="68.97" lengthAdjust="spacingAndGlyphs">Fe</text>
<text transform="translate(490.94,2872.40) scale(1.0403,0.9696)" style="font-family:'Open Sans',Carlito,'Liberation Sans',sans-serif" font-size="64" fill="#000" textLength="75.88" lengthAdjust="spacingAndGlyphs">Ca</text>
<text transform="translate(662.77,2872.40) scale(0.9212,0.9696)" style="font-family:'Open Sans',Carlito,'Liberation Sans',sans-serif" font-size="64" fill="#000" textLength="39.19" lengthAdjust="spacingAndGlyphs">K</text>
<text transform="translate(793.41,2872.40) scale(1.0933,0.9696)" style="font-family:'Open Sans',Carlito,'Liberation Sans',sans-serif" font-size="64" fill="#000" textLength="51.41" lengthAdjust="spacingAndGlyphs">Ti</text>
<text transform="translate(939.65,2872.40) scale(1.0756,0.9696)" style="font-family:'Open Sans',Carlito,'Liberation Sans',sans-serif" font-size="64" fill="#000" textLength="96.81" lengthAdjust="spacingAndGlyphs">Mn</text>
<text transform="translate(1138.87,2872.40) scale(1.0045,0.9696)" style="font-family:'Open Sans',Carlito,'Liberation Sans',sans-serif" font-size="64" fill="#000" textLength="76.91" lengthAdjust="spacingAndGlyphs">Ba</text>
<text transform="translate(1311.60,2872.40) scale(1.0368,0.9696)" style="font-family:'Open Sans',Carlito,'Liberation Sans',sans-serif" font-size="64" fill="#000" textLength="38.16" lengthAdjust="spacingAndGlyphs">V</text>
<text transform="translate(1443.76,2872.40) scale(0.9474,0.9696)" style="font-family:'Open Sans',Carlito,'Liberation Sans',sans-serif" font-size="64" fill="#000" textLength="61.25" lengthAdjust="spacingAndGlyphs">Sr</text>
<text transform="translate(1598.77,2872.40) scale(1.0220,0.9696)" style="font-family:'Open Sans',Carlito,'Liberation Sans',sans-serif" font-size="64" fill="#000" textLength="128.25" lengthAdjust="spacingAndGlyphs">N.D.</text>
<text transform="translate(1824.68,2872.40) scale(1.0040,0.9696)" style="font-family:'Open Sans',Carlito,'Liberation Sans',sans-serif" font-size="64" fill="#000" textLength="204.44" lengthAdjust="spacingAndGlyphs">Others</text>
<text transform="translate(992.87,3144.40) scale(1.0071,0.9642)" style="font-family:Carlito,'Liberation Sans',sans-serif;font-weight:bold" font-size="75" fill="#000" textLength="289.69" lengthAdjust="spacingAndGlyphs">Hematite</text>
<g><path d="M746.3,3758.0 L1299.5,3709.5 A555.3,556.3 0 0 1 1299.5,3806.5 Z" fill="#053f7d"/><path d="M746.3,3758.0 L1299.5,3806.5 A555.3,556.3 0 0 1 232.7,3969.6 Z" fill="#e00000"/><path d="M746.3,3758.0 L232.7,3969.6 A555.3,556.3 0 1 1 1299.5,3709.5 Z" fill="#1874cd"/><path d="M1310.5,3708.5 L746.3,3758.0 L1310.5,3807.5" fill="none" stroke="#fff" stroke-width="8.6" stroke-linejoin="round"/><path d="M744.6,3753.7 L215.3,3973.3 L217.5,3978.6 L748.0,3762.3 Z" fill="#fff"/></g>
<rect x="1589" y="3340.5" width="411.7" height="23.1" fill="#fd7e23"/>
<rect x="1589" y="3371.8" width="411.7" height="583.9" fill="#a6a6a6"/>
<rect x="1589" y="3964.7" width="411.7" height="60.8" fill="#ffc000"/>
<rect x="1589" y="4033.0" width="411.7" height="9.8" fill="#1874cd"/>
<rect x="1589" y="4052.0" width="411.7" height="59.5" fill="#3cae3c"/>
<rect x="1589" y="4120.4" width="411.7" height="16.9" fill="#005a96"/>
<rect x="1589" y="4145.8" width="411.7" height="18.0" fill="#bb4a07"/>
<rect x="1589" y="4170.3" width="411.7" height="6.7" fill="#a06e00"/>
<g stroke="#959595" stroke-width="3.3" fill="none" stroke-linecap="round" filter="url(#bl2)"><line x1="1309" y1="3706.1" x2="1581.7" y2="3343"/><line x1="1308.6" y1="3809.6" x2="1581" y2="4174.5"/></g>
<text transform="translate(2011.39,3369.00) scale(1.0058,0.9938)" style="font-family:Carlito,'Liberation Sans',sans-serif" font-size="50" fill="#747474" textLength="88.66" lengthAdjust="spacingAndGlyphs">0.10</text>
<text transform="translate(2010.45,3682.60) scale(1.0110,0.9500)" style="font-family:Carlito,'Liberation Sans',sans-serif" font-size="50" fill="#747474" textLength="88.66" lengthAdjust="spacingAndGlyphs">1.96</text>
<text transform="translate(2010.91,4013.70) scale(0.9930,1.0094)" style="font-family:Carlito,'Liberation Sans',sans-serif" font-size="50" fill="#747474" textLength="88.66" lengthAdjust="spacingAndGlyphs">0.23</text>
<text transform="translate(2010.90,4057.90) scale(0.9988,0.9500)" style="font-family:Carlito,'Liberation Sans',sans-serif" font-size="50" fill="#747474" textLength="88.66" lengthAdjust="spacingAndGlyphs">0.06</text>
<text transform="translate(2010.90,4140.80) scale(1.0047,0.9938)" style="font-family:Carlito,'Liberation Sans',sans-serif" font-size="50" fill="#747474" textLength="88.66" lengthAdjust="spacingAndGlyphs">0.22</text>
<text transform="translate(2010.91,4189.20) scale(0.9943,0.9938)" style="font-family:Carlito,'Liberation Sans',sans-serif" font-size="50" fill="#747474" textLength="88.66" lengthAdjust="spacingAndGlyphs">0.04</text>
<text transform="translate(589.77,3524.00) scale(1.0084,0.9415)" style="font-family:Carlito,'Liberation Sans',sans-serif" font-size="60" fill="#fff" textLength="136.80" lengthAdjust="spacingAndGlyphs">54.82</text>
<text transform="translate(736.70,4026.40) scale(0.9985,1.0342)" style="font-family:Carlito,'Liberation Sans',sans-serif" font-size="60" fill="#fff" textLength="136.80" lengthAdjust="spacingAndGlyphs">42.40</text>
<text transform="translate(1198.17,3775.30) scale(1.0165,0.9765)" style="font-family:Carlito,'Liberation Sans',sans-serif" font-size="50" fill="#fff" textLength="88.66" lengthAdjust="spacingAndGlyphs">2.78</text>
<rect x="250.7" y="4402.8" width="33" height="32.3" fill="#e00000"/><rect x="421.6" y="4402.8" width="33" height="32.3" fill="#fd7e23"/><rect x="594.0" y="4402.8" width="33" height="32.3" fill="#a6a6a6"/><rect x="733.2" y="4402.8" width="33" height="32.3" fill="#ffc000"/><rect x="884.0" y="4402.8" width="33" height="32.3" fill="#1874cd"/><rect x="1084.7" y="4402.8" width="33" height="32.3" fill="#3cae3c"/><rect x="1260.1" y="4402.8" width="33" height="32.3" fill="#005a96"/><rect x="1401.8" y="4402.8" width="33" height="32.3" fill="#bb4a07"/><rect x="1559.3" y="4402.8" width="33" height="32.3" fill="#1874cd"/><rect x="1791.0" y="4402.8" width="33" height="32.3" fill="#a06e00"/>
<text transform="translate(305.07,4439.80) scale(1.0383,0.9739)" style="font-family:'Open Sans',Carlito,'Liberation Sans',sans-serif" font-size="64" fill="#000" textLength="68.97" lengthAdjust="spacingAndGlyphs">Fe</text>
<text transform="translate(475.79,4439.80) scale(1.0284,0.9739)" style="font-family:'Open Sans',Carlito,'Liberation Sans',sans-serif" font-size="64" fill="#000" textLength="75.88" lengthAdjust="spacingAndGlyphs">Ca</text>
<text transform="translate(647.01,4439.80) scale(1.0152,0.9739)" style="font-family:'Open Sans',Carlito,'Liberation Sans',sans-serif" font-size="64" fill="#000" textLength="39.19" lengthAdjust="spacingAndGlyphs">K</text>
<text transform="translate(787.25,4439.80) scale(1.0489,0.9739)" style="font-family:'Open Sans',Carlito,'Liberation Sans',sans-serif" font-size="64" fill="#000" textLength="51.41" lengthAdjust="spacingAndGlyphs">Ti</text>
<text transform="translate(937.21,4439.80) scale(1.0988,0.9739)" style="font-family:'Open Sans',Carlito,'Liberation Sans',sans-serif" font-size="64" fill="#000" textLength="96.81" lengthAdjust="spacingAndGlyphs">Mn</text>
<text transform="translate(1138.40,4439.80) scale(1.0333,0.9739)" style="font-family:'Open Sans',Carlito,'Liberation Sans',sans-serif" font-size="64" fill="#000" textLength="76.91" lengthAdjust="spacingAndGlyphs">Ba</text>
<text transform="translate(1315.20,4439.80) scale(1.0658,0.9739)" style="font-family:'Open Sans',Carlito,'Liberation Sans',sans-serif" font-size="64" fill="#000" textLength="38.16" lengthAdjust="spacingAndGlyphs">V</text>
<text transform="translate(1452.00,4439.80) scale(1.0000,0.9739)" style="font-family:'Open Sans',Carlito,'Liberation Sans',sans-serif" font-size="64" fill="#000" textLength="61.25" lengthAdjust="spacingAndGlyphs">Sr</text>
<text transform="translate(1613.59,4439.80) scale(1.0178,0.9739)" style="font-family:'Open Sans',Carlito,'Liberation Sans',sans-serif" font-size="64" fill="#000" textLength="128.25" lengthAdjust="spacingAndGlyphs">N.D.</text>
<text transform="translate(1841.98,4439.80) scale(1.0045,0.9739)" style="font-family:'Open Sans',Carlito,'Liberation Sans',sans-serif" font-size="64" fill="#000" textLength="204.44" lengthAdjust="spacingAndGlyphs">Others</text>
</svg></body></html>
